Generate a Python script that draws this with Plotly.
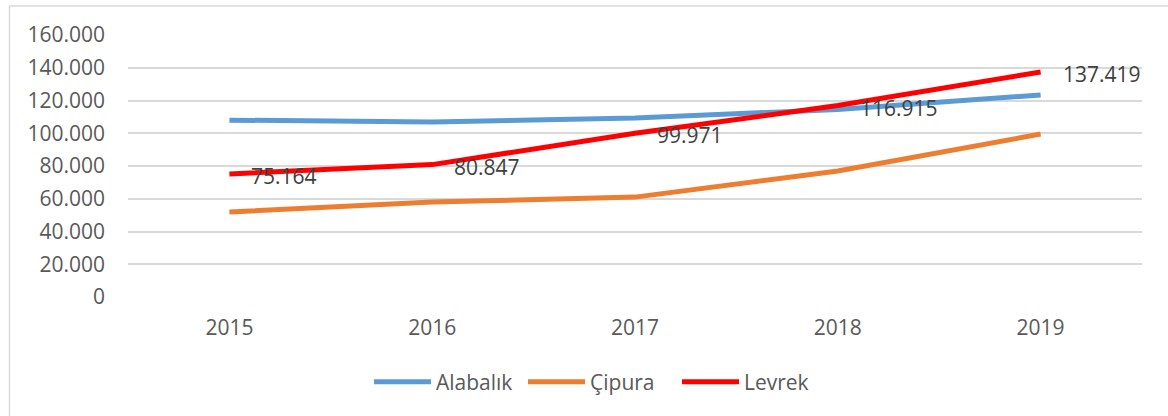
import plotly.graph_objects as go

years = ["2015", "2016", "2017", "2018", "2019"]
alabalik = [108000, 106900, 109300, 114500, 123400]
cipura = [51900, 58000, 61000, 77000, 99500]
levrek = [75164, 80847, 99971, 116915, 137419]
y_ticks = [0, 20000, 40000, 60000, 80000, 100000, 120000, 140000, 160000]

W, H = 1168, 416
L, R, T, B = 128, 26, 35, 119
pw, ph = W - L - R, H - T - B

def fmt(v):
    return f"{v:,.0f}".replace(",", ".")

FONT = "Open Sans"
fig = go.Figure()
for name, vals, col in [("Alabalık", alabalik, "#5B9BD5"),
                        ("Çipura", cipura, "#ED7D31"),
                        ("Levrek", levrek, "#FF0000")]:
    fig.add_trace(go.Scatter(x=years, y=vals, name=name, mode="lines",
                             line=dict(color=col, width=5), hoverinfo="skip"))

annotations = []
for i, v in enumerate(levrek):
    annotations.append(dict(x=i, y=v, xref="x", yref="y", text=fmt(v),
                            showarrow=False, xanchor="left", yanchor="middle",
                            xshift=20, yshift=-2,
                            font=dict(family=FONT, size=21, color="#404040")))

def px_x(p):
    return (p - L) / pw

def px_y(p):
    return (H - B - p) / ph

fig.update_layout(
    width=W, height=H,
    margin=dict(l=L, r=R, t=T, b=B, pad=0),
    paper_bgcolor="white", plot_bgcolor="white",
    separators=",.",
    font=dict(family=FONT, size=21, color="#595959"),
    showlegend=True,
    legend=dict(orientation="h", x=px_x(600), y=px_y(382), xanchor="center", yanchor="middle",
                font=dict(family=FONT, size=21, color="#595959"),
                itemwidth=57, entrywidth=82, entrywidthmode="pixels",
                traceorder="normal", tracegroupgap=0),
    annotations=annotations,
    shapes=[dict(type="rect", xref="paper", yref="paper",
                 x0=px_x(9.5), x1=px_x(1200), y0=px_y(6), y1=px_y(450),
                 line=dict(color="#D9D9D9", width=1.5), fillcolor="rgba(0,0,0,0)", layer="below")],
    xaxis=dict(type="category", range=[-0.5, 4.5], showgrid=False, zeroline=False,
               showline=False, ticks="", ticklabelstandoff=16,
               tickfont=dict(family=FONT, size=21, color="#595959"), fixedrange=True),
    yaxis=dict(range=[0, 160000], tickvals=y_ticks, tickformat=",d",
               showgrid=True, gridcolor="#D9D9D9", gridwidth=1.5,
               zeroline=False, showline=False, ticks="", ticklabelstandoff=22,
               tickfont=dict(family=FONT, size=21, color="#595959"), fixedrange=True),
)

fig.write_html("out.html")
